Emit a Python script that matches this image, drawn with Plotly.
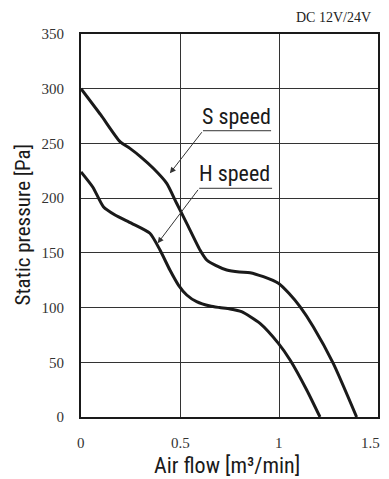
import plotly.graph_objects as go

# Data
s_flow = [0.0, 0.10, 0.197, 0.247, 0.300, 0.365, 0.433, 0.483, 0.534, 0.601, 0.635, 0.680, 0.736, 0.800, 0.854, 0.921, 0.997, 1.050, 1.106, 1.173, 1.274, 1.392]
s_pres = [300, 276, 251.6, 245.5, 238, 227.3, 213.5, 195.3, 177, 152.6, 143.5, 138.5, 134.3, 132.5, 131.9, 128.2, 122.2, 113, 100.8, 82.5, 49, 0]
h_flow = [0.0, 0.06, 0.113, 0.172, 0.256, 0.348, 0.399, 0.449, 0.492, 0.534, 0.584, 0.652, 0.700, 0.753, 0.811, 0.904, 0.997, 1.056, 1.140, 1.207]
h_pres = [224, 210, 192.2, 184.6, 177, 167.9, 152.6, 134.3, 120.6, 111.5, 105.4, 101.4, 100, 98.7, 96.2, 85.6, 67.3, 52.1, 24.7, 0]

x_ticks = [0, 0.5, 1, 1.5]
x_tick_text = ["0", "0.5", "1", "1.5"]
y_ticks = [0, 50, 100, 150, 200, 250, 300, 350]

labels = ["S speed", "H speed"]
label_underline_x0 = [0.616, 0.597]
label_underline_x1 = [0.960, 0.965]
label_underline_y = [261.6, 209.0]
arrow_tip_x = [0.449, 0.387]
arrow_tip_y = [222.7, 158.7]

sans = "Liberation Sans Narrow, Roboto Condensed, Arial Narrow, Liberation Sans, sans-serif"
serif = "Liberation Serif, DejaVu Serif, serif"
ink = "#1a1a1a"

fig = go.Figure()
fig.add_trace(go.Scatter(x=s_flow, y=s_pres, mode="lines", line=dict(color=ink, width=3, shape="spline", smoothing=0.6), showlegend=False))
fig.add_trace(go.Scatter(x=h_flow, y=h_pres, mode="lines", line=dict(color=ink, width=3, shape="spline", smoothing=0.6), showlegend=False))

for i, lab in enumerate(labels):
    fig.add_shape(type="line", xref="x", yref="y", x0=label_underline_x0[i], x1=label_underline_x1[i],
                  y0=label_underline_y[i], y1=label_underline_y[i], line=dict(color="#333", width=1))
    fig.add_annotation(x=(label_underline_x0[i] + label_underline_x1[i]) / 2 - 0.005, y=label_underline_y[i],
                       xref="x", yref="y", text=lab, showarrow=False, yanchor="bottom", yshift=0,
                       font=dict(family=sans, size=22, color=ink))
    fig.add_annotation(x=arrow_tip_x[i], y=arrow_tip_y[i], ax=label_underline_x0[i], ay=label_underline_y[i],
                       xref="x", yref="y", axref="x", ayref="y", text="", showarrow=True,
                       arrowhead=2, arrowsize=1.2, arrowwidth=1, arrowcolor="#333", standoff=0, startstandoff=0)

# x tick labels drawn as annotations at the tick values; the last one is right-anchored so it stays in view
for k, (tv, tt) in enumerate(zip(x_ticks, x_tick_text)):
    last = k == len(x_ticks) - 1
    fig.add_annotation(x=tv, y=0, xref="x", yref="paper", yanchor="middle", yshift=-26,
                       xanchor="right" if last else "center", xshift=4 if last else 0,
                       text=tt, showarrow=False, font=dict(family=serif, size=15, color="#333"))

fig.add_annotation(x=1, y=1, xref="paper", yref="paper", xanchor="right", yanchor="middle", yshift=17, xshift=-5,
                   text="DC 12V/24V", showarrow=False, font=dict(family=serif, size=14, color="#222"))

# axis titles placed as paper annotations
fig.add_annotation(x=0.5, y=0, xref="paper", yref="paper", yanchor="middle", yshift=-48, xshift=-3,
                   text="Air flow [m³/min]", showarrow=False, font=dict(family=sans, size=22, color=ink))
fig.add_annotation(x=0, y=0.5, xref="paper", yref="paper", xanchor="center", xshift=-59,
                   text="Static pressure [Pa]", textangle=-90, showarrow=False,
                   font=dict(family=sans, size=21, color=ink))

fig.update_xaxes(range=[0, 1.5], tickvals=x_ticks, showticklabels=False, showgrid=True, gridcolor="#333", gridwidth=1,
                 showline=True, linecolor=ink, linewidth=2, mirror=True, zeroline=False, ticks="", automargin=False)
fig.update_yaxes(range=[0, 350], tickvals=y_ticks, showgrid=True, gridcolor="#333", gridwidth=1,
                 showline=True, linecolor=ink, linewidth=2, mirror=True, zeroline=False, ticks="", automargin=False,
                 tickfont=dict(family=serif, size=15, color="#333"), ticklabelstandoff=12)

# page body has an 8px margin, so the figure is sized to fill the rest of the 389x479 window
fig.update_layout(width=381, height=471, margin=dict(l=73, r=11, t=26, b=62),
                  plot_bgcolor="white", paper_bgcolor="white")

fig.write_html("out.html")
